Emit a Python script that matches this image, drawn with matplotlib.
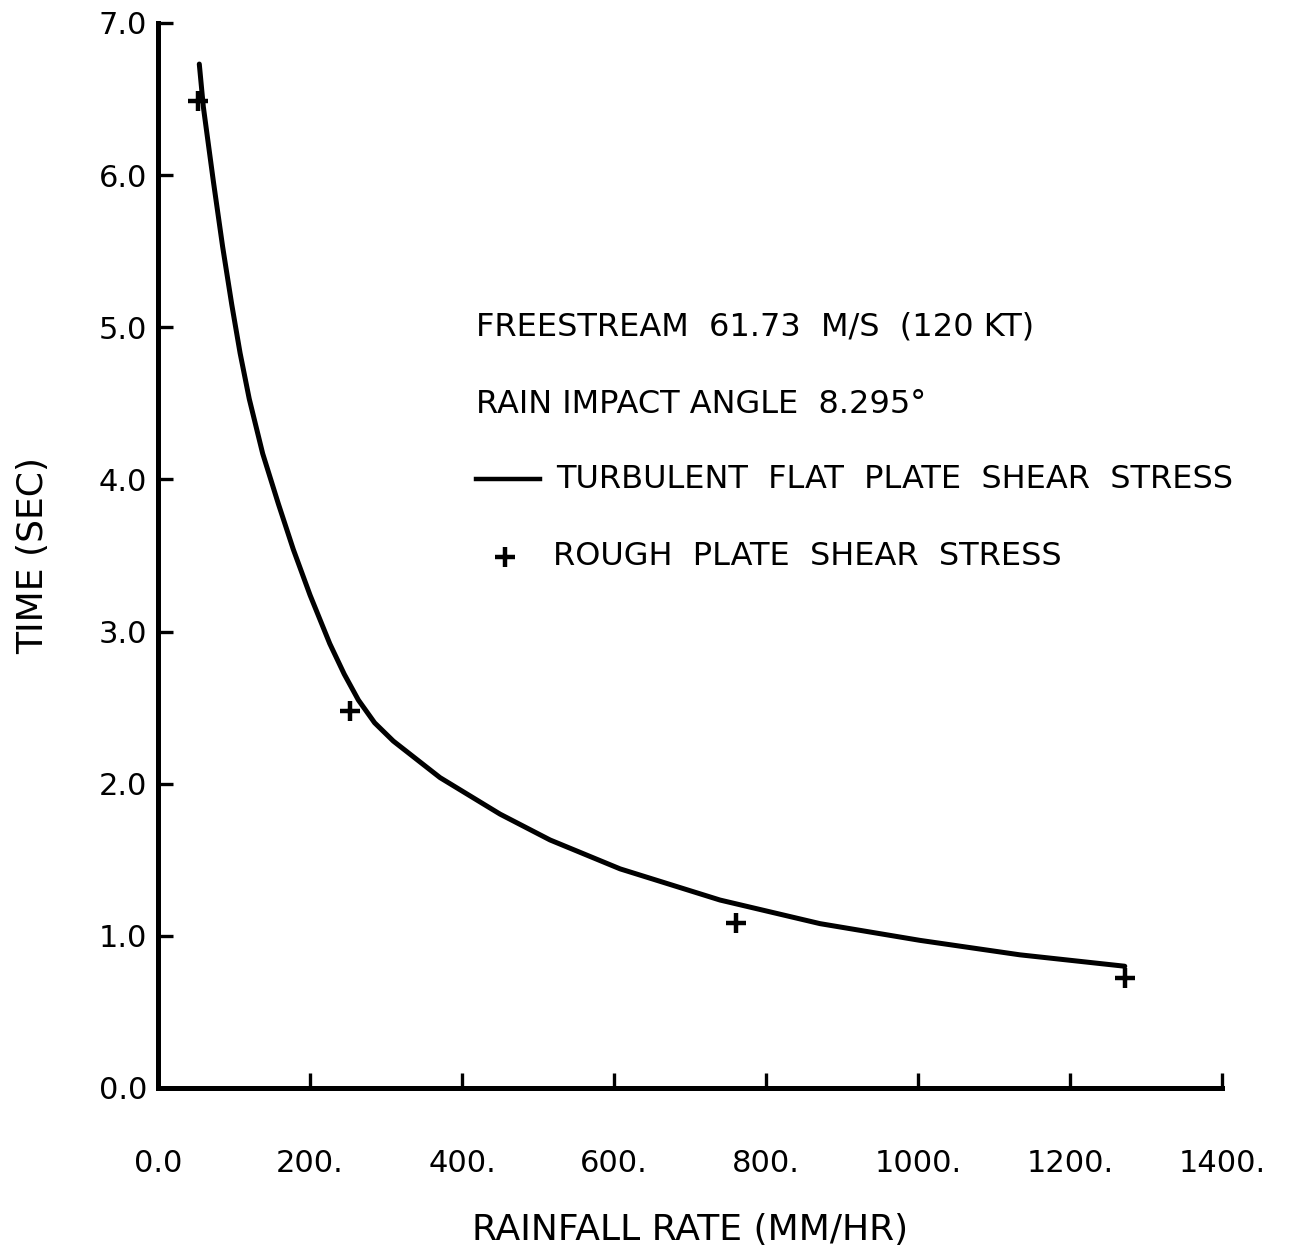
import matplotlib
matplotlib.use("Agg")
import matplotlib.pyplot as plt

# turbulent flat plate curve (mm/hr, sec)
rain_rate = [54.3, 59.6, 72.8, 85, 97, 108, 120, 137.7, 158.3, 178, 200,
             226, 245, 263.6, 285, 309.6, 371, 450, 515.8, 608, 739.5, 871,
             1002.6, 1134, 1272]
time_flat = [6.73, 6.45, 5.96, 5.53, 5.15, 4.83, 4.53, 4.17, 3.84, 3.54, 3.24,
             2.92, 2.72, 2.55, 2.40, 2.28, 2.04, 1.80, 1.63, 1.44, 1.235, 1.08,
             0.97, 0.875, 0.80]

# rough plate points
rough_rate = [53, 252.6, 760.5, 1272]
rough_time = [6.49, 2.48, 1.086, 0.72]

xticks = [0, 200, 400, 600, 800, 1000, 1200, 1400]
xtick_labels = ["0.0", "200.", "400.", "600.", "800.", "1000.", "1200.", "1400."]
yticks = [0, 1, 2, 3, 4, 5, 6, 7]
ytick_labels = ["0.0", "1.0", "2.0", "3.0", "4.0", "5.0", "6.0", "7.0"]

plt.rcParams['font.family'] = ['DejaVu Sans']

fig = plt.figure(figsize=(12.91, 12.56), dpi=100)
ax = fig.add_axes([0.1224, 0.1338, 0.8242, 0.8479])

ax.plot(rain_rate, time_flat, color='black', linewidth=3.6,
        solid_joinstyle='round', solid_capstyle='round', clip_on=False)
ax.plot(rough_rate, rough_time, linestyle='none', marker='+', markersize=15,
        markeredgewidth=3.2, color='black', clip_on=False)

ax.set_xlim(0, 1400)
ax.set_ylim(0, 7)

# spines: only left and bottom, heavy like the ink drawing
for side in ['top', 'right']:
    ax.spines[side].set_visible(False)
for side in ['left', 'bottom']:
    ax.spines[side].set_linewidth(3.6)
    ax.spines[side].set_capstyle('projecting')

ax.set_xticks(xticks)
ax.set_xticklabels(xtick_labels)
ax.set_yticks(yticks)
ax.set_yticklabels(ytick_labels)
ax.tick_params(axis='both', direction='in', length=11, width=2.4, labelsize=22)
ax.tick_params(axis='x', pad=44)
ax.tick_params(axis='y', pad=8)

ax.set_xlabel("RAINFALL RATE (MM/HR)", fontsize=26, labelpad=25)
ax.set_ylabel("TIME (SEC)", fontsize=26, labelpad=35)

# annotations and hand-made legend
ax.text(418, 5.0, "FREESTREAM  61.73  M/S  (120 KT)", fontsize=23, va='center', ha='left')
ax.text(418, 4.49, "RAIN IMPACT ANGLE  8.295°", fontsize=23, va='center', ha='left')
ax.plot([418, 503], [4.0, 4.0], color='black', linewidth=3.2)
ax.text(524, 4.0, "TURBULENT  FLAT  PLATE  SHEAR  STRESS", fontsize=23, va='center', ha='left')
ax.plot([457], [3.49], marker='+', markersize=15, markeredgewidth=3.2, color='black')
ax.text(520, 3.49, "ROUGH  PLATE  SHEAR  STRESS", fontsize=23, va='center', ha='left')

fig.savefig("out.png", dpi=100)
